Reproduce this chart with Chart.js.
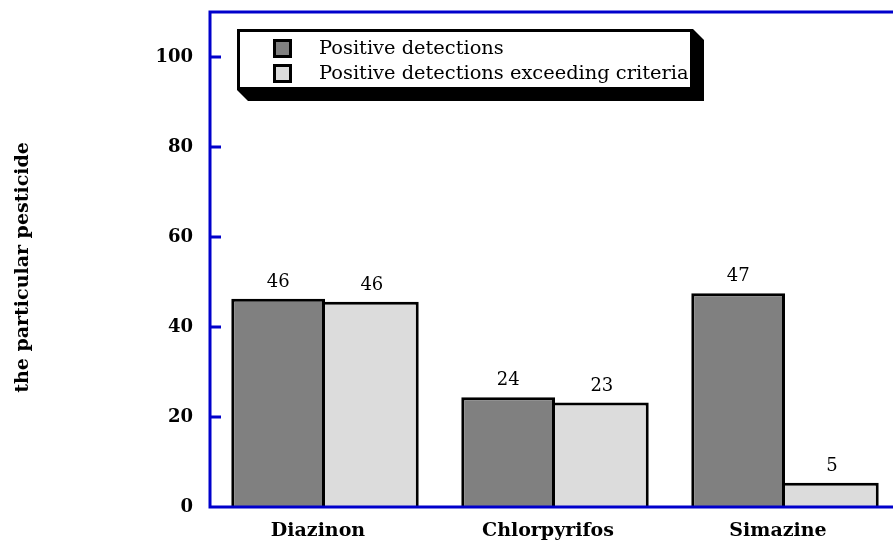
<!DOCTYPE html>
<html>
<head>
<meta charset="utf-8">
<script src="https://cdn.jsdelivr.net/npm/chart.js@4"></script>
<style>
  html, body { margin: 0; padding: 0; overflow: hidden; background: #fff; }
  #wrap { width: 910px; height: 542px; }
</style>
</head>
<body>
<div id="wrap"><canvas id="chart"></canvas></div>
<script>
// Data
const categories = ["Diazinon", "Chlorpyrifos", "Simazine"];
const seriesNames = ["Positive detections", "Positive detections exceeding criteria"];
const positiveValues = [46.3, 24.4, 47.5];
const exceedingValues = [45.6, 23.2, 5.4];
const positiveLabels = ["46", "24", "47"];
const exceedingLabels = ["46", "23", "5"];
const yTicks = [0, 20, 40, 60, 80, 100];
const yTitle = "the particular pesticide";

const AXIS_BLUE = "#0000cc";
const SERIF = "'DejaVu Serif', serif";

// blue frame with inward ticks
const axisFrame = {
  id: "axisFrame",
  afterDatasetsDraw(chart) {
    const { ctx, chartArea: a, scales: { y } } = chart;
    ctx.save();
    ctx.strokeStyle = AXIS_BLUE;
    ctx.lineWidth = 3;
    ctx.beginPath();
    ctx.moveTo(a.right, a.top);
    ctx.lineTo(a.left, a.top);
    ctx.lineTo(a.left, a.bottom);
    ctx.lineTo(a.right, a.bottom);
    yTicks.forEach(v => {
      if (v === 0) return;
      const py = y.getPixelForValue(v);
      ctx.moveTo(a.left, py);
      ctx.lineTo(a.left + 11, py);
    });
    ctx.stroke();
    ctx.restore();
  }
};

// rotated y title, sits a little below the plot's middle
const yTitleDraw = {
  id: "yTitleDraw",
  afterDraw(chart) {
    const { ctx, chartArea: a } = chart;
    ctx.save();
    ctx.translate(23, (a.top + a.bottom) / 2 + 8);
    ctx.rotate(-Math.PI / 2);
    ctx.font = "bold 19px " + SERIF;
    ctx.fillStyle = "#000";
    ctx.textAlign = "center";
    ctx.textBaseline = "middle";
    ctx.fillText(yTitle, 0, 0);
    ctx.restore();
  }
};

// value labels above bars
const barLabels = {
  id: "barLabels",
  afterDatasetsDraw(chart) {
    const { ctx } = chart;
    const texts = [positiveLabels, exceedingLabels];
    ctx.save();
    ctx.font = "18px " + SERIF;
    ctx.fillStyle = "#000";
    ctx.textAlign = "center";
    ctx.textBaseline = "alphabetic";
    chart.data.datasets.forEach((ds, i) => {
      chart.getDatasetMeta(i).data.forEach((bar, j) => {
        ctx.fillText(texts[i][j], bar.x, bar.y - 12);
      });
    });
    ctx.restore();
  }
};

// boxed legend with drop shadow
const boxLegend = {
  id: "boxLegend",
  afterDraw(chart) {
    const { ctx, chartArea: a } = chart;
    const x0 = a.left + 27, y0 = 29, w = 456, h = 61, sh = 11;
    ctx.save();
    ctx.fillStyle = "#000";
    ctx.beginPath();
    ctx.moveTo(x0 + w, y0);
    ctx.lineTo(x0 + w + sh, y0 + sh);
    ctx.lineTo(x0 + w + sh, y0 + h + sh);
    ctx.lineTo(x0 + sh, y0 + h + sh);
    ctx.lineTo(x0, y0 + h);
    ctx.closePath();
    ctx.fill();
    ctx.fillStyle = "#fff";
    ctx.fillRect(x0, y0, w, h);
    ctx.strokeStyle = "#000";
    ctx.lineWidth = 3;
    ctx.strokeRect(x0 + 1.5, y0 + 1.5, w - 3, h - 3);
    ctx.font = "19.4px " + SERIF;
    ctx.textBaseline = "middle";
    chart.data.datasets.forEach((ds, i) => {
      const cy = 48 + i * 25;
      ctx.fillStyle = ds.backgroundColor;
      ctx.fillRect(x0 + 37, cy - 8, 17, 17);
      ctx.lineWidth = 3;
      ctx.strokeRect(x0 + 37.5, cy - 7.5, 16, 16);
      ctx.fillStyle = "#000";
      ctx.fillText(ds.label, x0 + 82, cy + 1);
    });
    ctx.restore();
  }
};

new Chart(document.getElementById("chart"), {
  type: "bar",
  data: {
    labels: categories,
    datasets: [
      { label: seriesNames[0], data: positiveValues, backgroundColor: "#808080", borderColor: "#000", borderWidth: 3 },
      { label: seriesNames[1], data: exceedingValues, backgroundColor: "#dcdcdc", borderColor: "#000",
        borderWidth: { top: 3, right: 3, left: 0, bottom: 0 } }
    ]
  },
  options: {
    responsive: true,
    maintainAspectRatio: false,
    animation: false,
    events: [],
    layout: { padding: { top: 12, right: 10, left: 0, bottom: 0 } },
    datasets: { bar: { categoryPercentage: 0.815, barPercentage: 1.0 } },
    plugins: { legend: { display: false }, tooltip: { enabled: false } },
    scales: {
      x: {
        grid: { display: false },
        border: { display: false },
        ticks: { color: "#000", font: { family: SERIF, size: 19, weight: "bold" }, padding: 5, labelOffset: -7 },
        afterFit(s) { s.height = 35; s.paddingLeft = 0; s.paddingRight = 0; }
      },
      y: {
        min: 0,
        max: 110,
        afterBuildTicks(s) { s.ticks = yTicks.map(v => ({ value: v })); },
        grid: { display: false, drawTicks: false },
        border: { display: false },
        ticks: { color: "#000", font: { family: SERIF, size: 18, weight: "bold" }, padding: 17 },
        afterFit(s) { s.width = 210; s.paddingTop = 0; s.paddingBottom = 0; }
      }
    }
  },
  plugins: [axisFrame, yTitleDraw, barLabels, boxLegend]
});
</script>
</body>
</html>
